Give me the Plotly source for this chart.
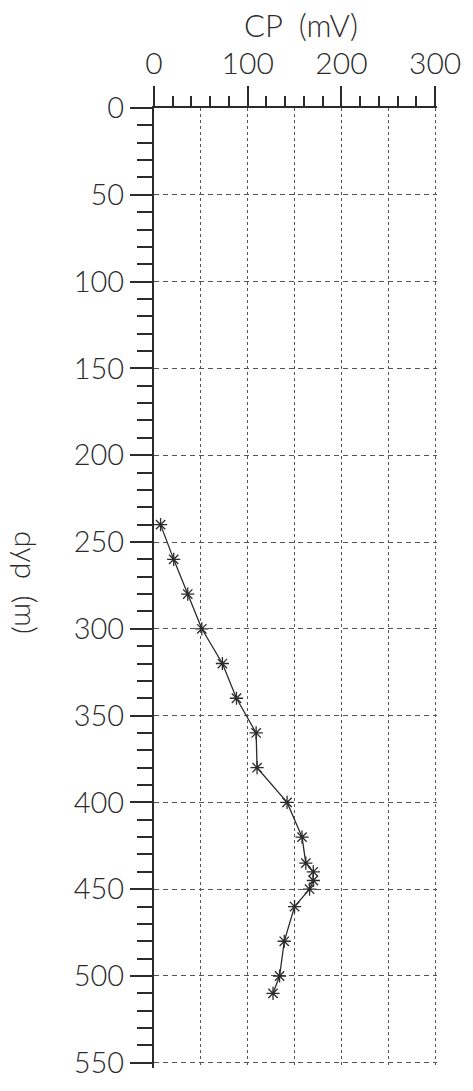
import plotly.graph_objects as go

# CP log against depth
depth_m = [240, 260, 280, 300, 320, 340, 360, 380, 400, 420, 435, 440, 445, 450, 460, 480, 500, 510]
cp_mv = [7, 21, 36, 51, 73, 88, 109, 110, 142, 158, 162, 170, 170, 166, 150, 139, 134, 127]

x_labels = [0, 100, 200, 300]
# ranges run a little past the last gridlines so the edge grids are kept
x_range = [0, 302]
y_range = [553, 0]

ink = "#2b2b2b"
font_family = "Lato, 'Open Sans', sans-serif"

fig = go.Figure()

# connecting line
fig.add_trace(go.Scatter(
    x=cp_mv, y=depth_m, mode="lines",
    line=dict(color=ink, width=1.3),
    xaxis="x", yaxis="y", showlegend=False, hoverinfo="skip",
))
# asterisk markers, on the labelled top axis
fig.add_trace(go.Scatter(
    x=cp_mv, y=depth_m, mode="markers",
    marker=dict(symbol="asterisk-open", size=11, color=ink,
                line=dict(color=ink, width=1.3)),
    xaxis="x2", yaxis="y", showlegend=False,
))

fig.update_layout(
    width=473, height=1091,
    margin=dict(l=154, r=28, t=108, b=13),
    paper_bgcolor="white", plot_bgcolor="white",
    font=dict(family=font_family, color=ink, size=29, weight=300),
    xaxis=dict(
        range=x_range, side="top", anchor="y",
        tick0=0, dtick=50, showticklabels=False, ticks="",
        showgrid=True, gridcolor="#555", gridwidth=1, griddash="3px,3px",
        showline=True, linecolor=ink, linewidth=2, zeroline=False,
        minor=dict(tick0=0, dtick=20, ticks="outside", ticklen=10,
                   tickwidth=1.5, tickcolor=ink, showgrid=False),
    ),
    xaxis2=dict(
        range=x_range, matches="x", overlaying="x", side="top", anchor="y",
        tickmode="array", tickvals=x_labels, ticktext=[str(v) for v in x_labels],
        ticks="outside", ticklen=21, tickwidth=1.5, tickcolor=ink,
        tickfont=dict(size=30),
        showgrid=False, showline=False, zeroline=False,
    ),
    yaxis=dict(
        range=y_range, tick0=0, dtick=50,
        ticks="outside", ticklen=22, tickwidth=1.5, tickcolor=ink,
        tickfont=dict(size=29),
        showgrid=True, gridcolor="#555", gridwidth=1, griddash="5px,4px",
        showline=True, linecolor=ink, linewidth=2, zeroline=False,
        minor=dict(tick0=0, dtick=10, ticks="outside", ticklen=15,
                   tickwidth=1.5, tickcolor=ink, showgrid=False),
    ),
    annotations=[
        dict(text="CP  (mV)", xref="paper", yref="paper", x=0.52, y=1,
             xanchor="center", yanchor="middle", yshift=83, showarrow=False,
             font=dict(size=31)),
        dict(text="dyp  (m)", xref="paper", yref="paper", x=0, y=0.5,
             xanchor="center", yanchor="middle", xshift=-127, yshift=6,
             textangle=90, showarrow=False, font=dict(size=30)),
    ],
)

fig.write_html("out.html")
